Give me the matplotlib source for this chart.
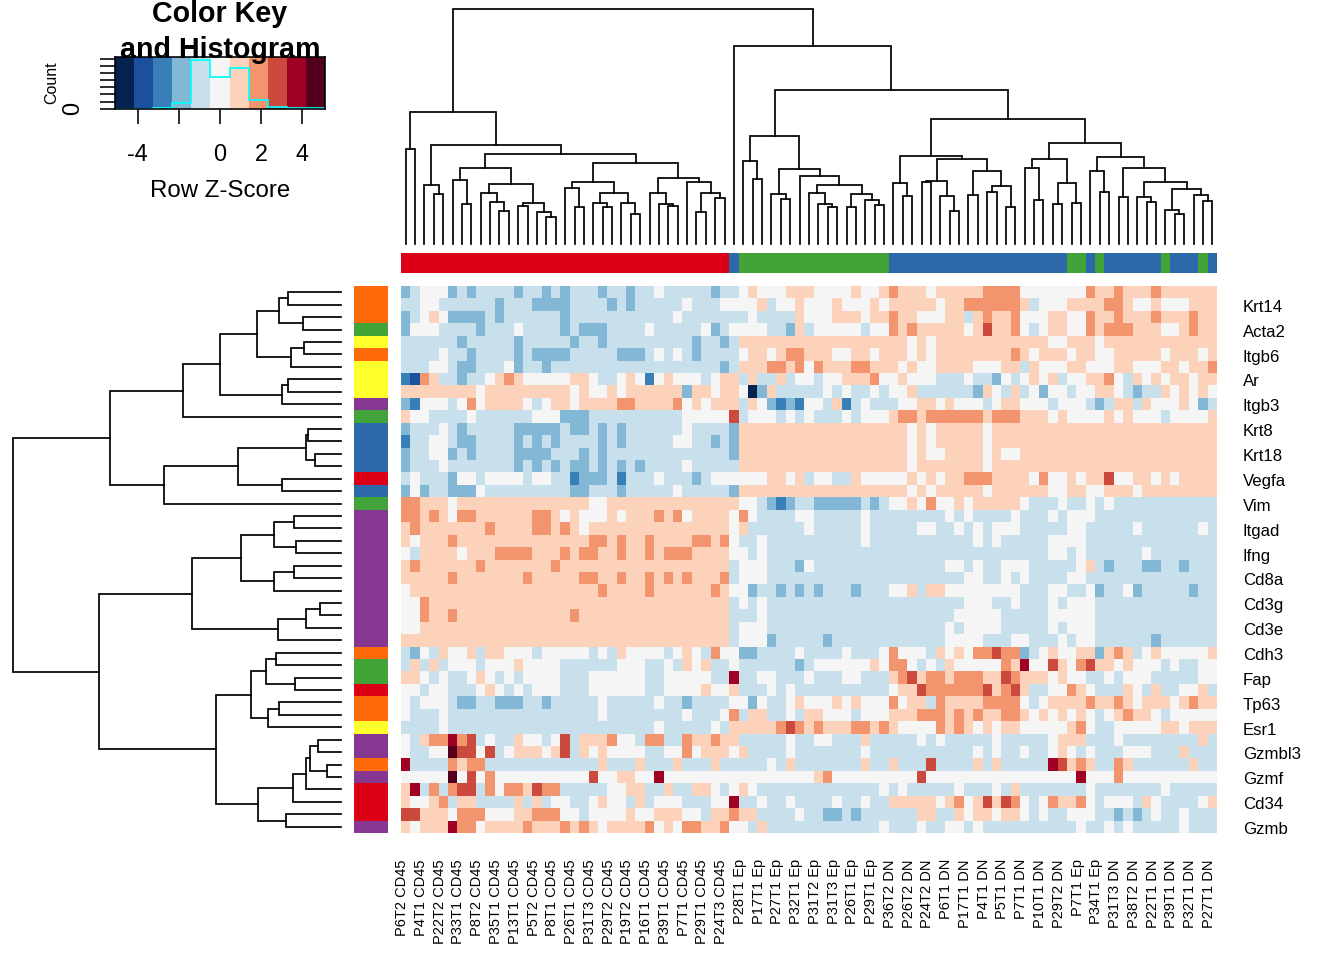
import numpy as np
import matplotlib
matplotlib.use("Agg")
import matplotlib.pyplot as plt
from matplotlib.colors import ListedColormap, BoundaryNorm

plt.rcParams["font.family"] = ["Liberation Sans", "DejaVu Sans"]

# %% Data

# z-score bin of each cell: a..e = -1..-5, . = 0, p..t = +1..+5
heat_rows = [
    "ba...babaa aabaababaa abaabaa.aa aaabaa.p.. .ppp ....p..pqp pp.pppppqq qq.......q ppqpppqppp ppp",
    "aa..aaaaaa baaabbbbaa aababaaaaa .aaa....pa ..p. ..p...p.pp ppp.ppqqqq qqpa...ppp pqqp..p... ppp",
    "ba.p.bbbba baaaaaabaa aaaaaaaaa. aaaaaaa.aa aap. ..ppp.ppqp p...ppapqp pq...pp..q ppqpppqppp qpp",
    "b...aaaaba aa.aaaabab bbaaaa.aaa aa.ba....a abpa .....a..qp qppppp.prp pq.a.pp..q pqqqppp..p qpp",
    "aaaaaabaaa aabaaaaaba abaaaaaaaa abaabapppp pppp pppppppppp .p.ppppppp ppppp..ppp .ppppppppp ppp",
    "aaaa.aabaa aababbbbaa aaabbba.a. abaaaa.pp. pqqp pp..pp.ppp .p.ppppppp pqp.ppp.pp ..ppppp.pp p.p",
    "aaa..abbaa a.baabaaaa aaaaaaaaaa aaaabapppq qpq. qpppqqppp. p..pppp... ppap...pp. ..pp...pp. ppq",
    "cdqpaabaa. pqp.....pp .aa.p.c.p. ..a.ppapaa pa.. a..pppq..p ...aaa.aab .a.p.pa..p pq.ap.p.pp .pp",
    "pppppppp.p pppppppp.p ..p.pppppp bpp.pp.ebp aaaa a.a.aa.a.. paaaaaabp. apa.b..a.. pp.abaap.p .p.",
    "bc...a.q.p ppp.a.pp.p pppqqppppq .p.pppap.b cbc. .apca.aaa. .pp.p...a. pp...a...a bappap...p .ba",
    "p..aaaa.aa aaaa...bbb aaaaaaaaaa .....ra... a.a. aaa.a...pq qpqqqqqqpq qqppp.p... .p.p...a.. ..p",
    "baaa.abaaa aabbbbbabb ababaaaaaa .aaaabpppp pppp pppppppppp .p.ppppp.p pppppppppp pppppppppp ppp",
    "caa..abbaa aabababaaa ababaaaaa. .aababpppp pppp pppppppppp .p.ppppp.p pppppppppp pppppppppp ppp",
    "baa..babaa aabbbbaaab abaaaaaaaa aaaaabpppp pppp pppppppppp .p..pppp.p ..pppppppp pppppppppp ppp",
    "baaa.aaaaa aababababb abababaaaa .aaaaapppp pppp pppppppppp .ppppppp.p pppppppppp pppppppppp ppp",
    "a.aaab..a. ...a..aacb bbacaaa.aa aba......p p.pa ..aap..... p.p.ppqqqp ppp.q..p.p pr..pp.p.p ppp",
    "b.baabbb.a aaaaaaaabb aaabaaaaa. aaaaabpppp pppp pppppppppp .p.ppppp.p ppppp..pp. .ppp.ppppp ppp",
    "qqppp.pppp pppppppppp ..pppppppp pppppp..ab cbaa bbbbbaba.. p.q..p.ppp pp.aaa.aa. a.aaaaaaaa aaa",
    "qqpqp.qqpp ppppqqp.p. ..p.pppqpq .pppp.q.aa aa.. aaaaa.aaaa aaaa.a.aaa a.aaa.a... aaaaaaaaaa aaa",
    "pqpppppppq ppppqqpqp. pppppppppp ppppp.paaa aaa. aaaaa.aaaa a..aa.a.a. ..aaaaa..a aaaa.aaaaa a.a",
    "p.pppqpppp pppppppppp qqpqppqppp pqqpq.aa.a aaaa aaaaa.aaaa aaaaaaa.a. aaaaa....a aaaaaaaaaa aaa",
    ".apppp.ppp qqqqpppqpq qppqppqpqq qpppp..a.a aaaa aaaaaaaaaa aaaaaaaaaa aaaaa..a.a aaaaa.aaaa aaa",
    "pqppppppqp ppppppqppp pppppppppp pppppa...a aab. aaaaaaaaaa aaaa..a.aa ...aaaaa.p abaaabbaab aaa",
    "pppppqpppp pppqpppppq qppqppqpqp qpppqa...a aaaa aaaaaaaaaa aaaaaa..aa .a.aaaa..a aaaaaaaaaa aaa",
    ".ppppppppp pppppppppp pqppppqppp pppqp..baa baba baaabaaa.. papp...... ..aaa..aa. baa.baaaaa baa",
    "..qppppppp pppppppppp pppppppppp pppppa.a.a aaaa aaaaaaaaaa aaaaaa...a a.aaa.a... aaaaaaaaaa aaa",
    "..qppqpppp ppppppppqp pppppppppp pppppaaa.a aaaa aaaaaaaaaa aaaaa..... aaaaa..... aaaaaaaaaa aaa",
    "..pppppppp pppppppppp pppppppppp pppppa...a aaaa aaaaaaaaaa aaaa.a.... aaaaa.a... aaaaaaaaaa aaa",
    "pppppppppp pppppppppp pppppppppp pppppa...b aaaa abaaaaaaaa aaaa....aa a..aaa.a.. aaaaaabaaa aaa",
    "ab.ap..pap p...a..... a.ap....a. p.aq..bbaa aa.a aaa.aaa.q. ..ap.p.qqr qqba.p..pp bpqpa.p... ..p",
    "apapa...a. ..p....aaa aaa...aa.a p.paa.aaaa aaba ......p.qq .a.ap..... qps..rp.qr pp.p...a.a a..",
    "pp.a.aa.p. a.a....aaa ......aa.. ...aasaa.. aaa. aaa..aaapq rpqqpqqqpp rqppp.p..a a.a...aaaa a..",
    "..a..aaa.p .a.a...aaa ......aa.. ..p..paaa. a.aa aaaaaaaa.p prqqqqqqrp qrpaa..qp. aaap.apaa. .pa",
    ".a...abbaa bbbaabaaaa a.aaaaa.aa baaaa..b.a a.p. ..p.p...q. ppaqppppqq qq.a.ppppq ppqp.ppp.p qpp",
    ".aaa.aaaaa aaaaaaaaaa a.aaaaaaaa .aaa.qappa a.ap p...a...pp pqqqpqpqpp qqp.p.p.p. a.pqpp.a.. ...",
    "aaaa.aaaaa aaaaaaaaaa aaaaaaa.aa aaa.appppp qrqp qpppqqpqp. ...qpqp.p. pp.....pq. aa.....pp. ppp",
    ".apqqsqra. aap..a.rap ppq..aqqaa qppqppaaaa a.aa ..aaapaaaa a.a.aaaaa. aaaaa.pppa aa.aaaaaaa apa",
    ".aa..trr.r a.ppp.prap .p....aa.. q.ppp.paaa a.aa aaaaa.aaaa aaaaaaa.a. aa.aa.p.a. aaa...aaap aaa",
    "saaaaqpqqa aaaaaaaaaa apaaapaaap aaapaaaaa. apaa aaaaapaapa aaraaaapap aaaaasrpqp aaqpaaaaaa paa",
    ".....t.r.q .......... r..pp..s.. .......... .... pq........ .r........ ........s. ..q....... ...",
    "psaqaqrraq .qqprqqaaa aa..ppaapa app.a.p.aa aaaa aaaaaaa.a. aaaaa.aaa. apaaaaaaa. aaaaaaa.aa aaa",
    "p..pqappaa aapapa..aa .p..apa... aaa..saa.a a.aa aa.aa.aapp ppp.pq.prp rq.a.qppq. a...ap.aaa a.p",
    "rrppp.qqq. ..ppqqq..a ....p..ppp ..appqppaa aa.a abbabaaaaa appaap.pp. pp.a.aa... aababa.aa. aaa",
    "p.pppsqq.p pppqpppqpq p.ppppq.p. qqppq..apa aaaa aaaaaaa.aa a.aa..a.aa aaaaaaaa.a a.a.aaaaa. aaa",
]

row_labels = ["Krt14", "Acta2", "Itgb6", "Ar", "Itgb3", "Krt8", "Krt18", "Vegfa", "Vim", "Itgad", "Ifng",
              "Cd8a", "Cd3g", "Cd3e", "Cdh3", "Fap", "Tp63", "Esr1", "Gzmbl3", "Gzmf", "Cd34", "Gzmb"]

col_labels = ["P6T2 CD45", "P4T1 CD45", "P22T2 CD45", "P33T1 CD45", "P8T2 CD45", "P35T1 CD45",
              "P13T1 CD45", "P5T2 CD45", "P8T1 CD45", "P26T1 CD45", "P31T3 CD45", "P29T2 CD45",
              "P19T2 CD45", "P16T1 CD45", "P39T1 CD45", "P7T1 CD45", "P29T1 CD45", "P24T3 CD45",
              "P28T1 Ep", "P17T1 Ep", "P27T1 Ep", "P32T1 Ep", "P31T2 Ep", "P31T3 Ep", "P26T1 Ep",
              "P29T1 Ep", "P36T2 DN", "P26T2 DN", "P24T2 DN", "P6T1 DN", "P17T1 DN", "P4T1 DN",
              "P5T1 DN", "P7T1 DN", "P10T1 DN", "P29T2 DN", "P7T1 Ep", "P34T1 Ep", "P31T3 DN",
              "P38T2 DN", "P22T1 DN", "P39T1 DN", "P32T1 DN", "P27T1 DN"]

# side bars, one letter per row / column
row_groups = "ooogyoyyypgbbbbrbgpppppppppppoggrooyppoprrrp"
col_groups = ("rrrrrrrrrrrrrrrrrrrrrrrrrrrrrrrrrrr" "b" "gggggggggggggggg"
              "bbbbbbbbbbbbbbbbbbb" "gg" "b" "g" "bbbbbb" "g" "bbb" "g" "b")

# histogram in the colour key, one count per colour bin
hist_counts = [5, 5, 10, 170, 1370, 873, 1136, 235, 50, 12, 6]

# dendrograms: (height, left, right), o is a leaf
o = None

row_tree = (328,
    (231,
        (158,
            (121,
                (84,
                    (62, (53, o, o), (38, o, o)),
                    (50, (37, o, o), o)),
                (59, (53, o, o), o)),
            o),
        (177,
            (103,
                (35, (33, o, o), (26, o, o)),
                (59, o, o)),
            o)),
    (242,
        (149,
            (100,
                (67, (47, o, o), (45, o, o)),
                (67, (47, o, o), o)),
            (63, (35, (21, o, o), o), o)),
        (125,
            (90,
                (75, (65, o, o), (46, o, o)),
                (73, (62, o, o), o)),
            (83,
                (48, (35, (31, (23, o, o), (14, o, o)), o), o),
                (55, o, o)))))

col_tree = (235,
    (132,
        (95, o, o),
        (99,
            (59, o, (50, o, o)),
            (90,
                (76,
                    (64, o, (40, o, o)),
                    (60,
                        (51, o, (42, o, (33, o, o))),
                        (41, (38, o, o), (32, o, (27, o, o))))),
                (81,
                    (62,
                        (56, o, (37, o, o)),
                        (51,
                            (41, o, (37, o, o)),
                            (41, o, (30, o, o)))),
                    (66,
                        (51, o, (40, o, (38, o, o))),
                        (62, o, (51, (32, o, o), (46, o, o)))))))),
    (198,
        o,
        (154,
            (108,
                (83, o, (65, o, o)),
                (75,
                    (50, o, (45, o, o)),
                    (68,
                        o,
                        (59,
                            (51, o, (40, o, (37, o, o))),
                            (50, (37, o, o), (44, o, (39, o, o))))))),
            (125,
                (88,
                    (61, o, (48, o, o)),
                    (85,
                        (63, (62, o, o), (48, o, (33, o, o))),
                        (73,
                            (49, o, o),
                            (58, (52, o, o), (37, o, o))))),
                (101,
                    (85,
                        (76, o, (44, o, o)),
                        (61, (40, o, o), (41, o, o))),
                    (87,
                        (73, o, (52, o, o)),
                        (76,
                            (47, o, o),
                            (62,
                                (47, o, (42, o, o)),
                                (55,
                                    (34, o, (30, o, o)),
                                    (49, o, (43, o, o)))))))))))

# %% Colours and scales

level_of = {"e": -5, "d": -4, "c": -3, "b": -2, "a": -1, ".": 0, "p": 1, "q": 2, "r": 3, "s": 4, "t": 5}
key_colors = ["#06234F", "#1C4F9C", "#377FB6", "#82B7D6", "#C8DFEC", "#F5F5F5",
              "#FCD2BA", "#F2946E", "#CB4A3D", "#A00024", "#54001C"]
group_colors = {"r": "#DC0017", "b": "#2D69A8", "g": "#42A338", "p": "#853792", "o": "#FF6B0A", "y": "#FFFF2B"}

cmap = ListedColormap(key_colors)
norm = BoundaryNorm(np.arange(-5.5, 6.5), 11)
group_cmap = ListedColormap(list(group_colors.values()))
group_index = {k: i for i, k in enumerate(group_colors)}
group_norm = BoundaryNorm(np.arange(-0.5, 6.5), 6)

heat_rows = [r.replace(" ", "") for r in heat_rows]
for i, r in enumerate(heat_rows):
    if len(r) != 87:
        raise ValueError(f"row {i} has {len(r)} cells")
heat = np.array([[level_of[c] for c in r] for r in heat_rows])

# %% Layout, all in pixels of the 1344x960 picture

W, H = 1344, 960
fig = plt.figure(figsize=(W / 96, H / 96), dpi=96)


def add_px_axes(x0, y0, x1, y1):
    return fig.add_axes([x0 / W, 1 - y1 / H, (x1 - x0) / W, (y1 - y0) / H])


def walk(node, leaves, segs):
    # returns centre and height of node, collects the three line pieces
    if node is None:
        leaves[0] += 1
        return leaves[0] - 0.5, 0
    h, left, right = node
    p1, h1 = walk(left, leaves, segs)
    p2, h2 = walk(right, leaves, segs)
    segs.append(([p1, p1, p2, p2], [h1, h, h, h2]))
    return (p1 + p2) / 2, h


# heatmap
ax = add_px_axes(401, 286, 1217, 833)
ax.pcolormesh(np.arange(88), np.arange(45), heat, cmap=cmap, norm=norm, antialiased=False, linewidth=0)
ax.set_xlim(0, 87)
ax.set_ylim(44, 0)
for s in ax.spines.values():
    s.set_visible(False)
ax.set_xticks(np.arange(0, 87, 2) + 0.13)
ax.set_xticklabels(col_labels, rotation=90, fontsize=11, ha="center", va="top")
ax.yaxis.tick_right()
ax.set_yticks(np.arange(1, 44, 2) + 0.72)
ax.set_yticklabels(row_labels, fontsize=12.6, ha="left", va="center")
ax.tick_params(axis="x", length=0, pad=19.5)
ax.tick_params(axis="y", length=0, pad=19.5)

# side bars
ax_rs = add_px_axes(354, 286, 388, 833)
ax_rs.pcolormesh(np.array([[group_index[c]] for c in row_groups]), cmap=group_cmap, norm=group_norm,
                 antialiased=False, linewidth=0)
ax_rs.set_ylim(44, 0)
ax_rs.axis("off")

ax_cs = add_px_axes(401, 253, 1217, 273)
ax_cs.pcolormesh(np.array([[group_index[c] for c in col_groups]]), cmap=group_cmap, norm=group_norm,
                 antialiased=False, linewidth=0)
ax_cs.axis("off")

# row dendrogram
ax_rd = add_px_axes(5, 286, 341, 833)
segs = []
walk(row_tree, [0], segs)
for p, h in segs:
    ax_rd.plot(h, p, color="black", lw=1.3, solid_joinstyle="miter", clip_on=False)
ax_rd.set_xlim(336, 0)
ax_rd.set_ylim(44, 0)
ax_rd.axis("off")

# column dendrogram
ax_cd = add_px_axes(401, 5, 1217, 244)
segs = []
walk(col_tree, [0], segs)
for p, h in segs:
    ax_cd.plot(p, h, color="black", lw=1.3, solid_joinstyle="miter", clip_on=False)
ax_cd.set_xlim(0, 87)
ax_cd.set_ylim(0, 239)
ax_cd.axis("off")

# colour key
breaks = np.linspace(-5.1, 5.1, 12)
ax_key = add_px_axes(115, 57, 325, 108.7)
ax_key.pcolormesh(breaks, [0, 1445], np.arange(-5, 6).reshape(1, -1), cmap=cmap, norm=norm,
                  antialiased=False, linewidth=0)
ax_key.stairs(hist_counts, breaks, color="#00FFFF", lw=1.3, baseline=None)
ax_key.set_xlim(-5.1, 5.1)
ax_key.set_ylim(0, 1445)
ax_key.set_xticks([-4, -2, 0, 2, 4])
ax_key.set_xticklabels(["-4", "", "0", "2", "4"], fontsize=17.5)
ax_key.set_yticks(np.arange(0, 1401, 200))
ax_key.set_yticklabels(["0"] + [""] * 7, fontsize=17.5, rotation=90, va="center")
ax_key.tick_params(axis="x", length=11, width=1.2, pad=15)
ax_key.tick_params(axis="y", length=11, width=1.2, pad=12)
for s in ax_key.spines.values():
    s.set_linewidth(1.2)

fig.text(52 / W, 1 - 82.5 / H, "Count", fontsize=12, rotation=90, ha="center", va="center")
fig.text(220 / W, 1 - 191 / H, "Row Z-Score", fontsize=18, ha="center", va="center")
fig.text(220 / W, 1 - 14.5 / H, "Color Key", fontsize=21.5, fontweight="bold", ha="center", va="center", zorder=10)
fig.text(220 / W, 1 - 49.5 / H, "and Histogram", fontsize=21.5, fontweight="bold", ha="center", va="center", zorder=10)

fig.savefig("out.png", dpi=96)
